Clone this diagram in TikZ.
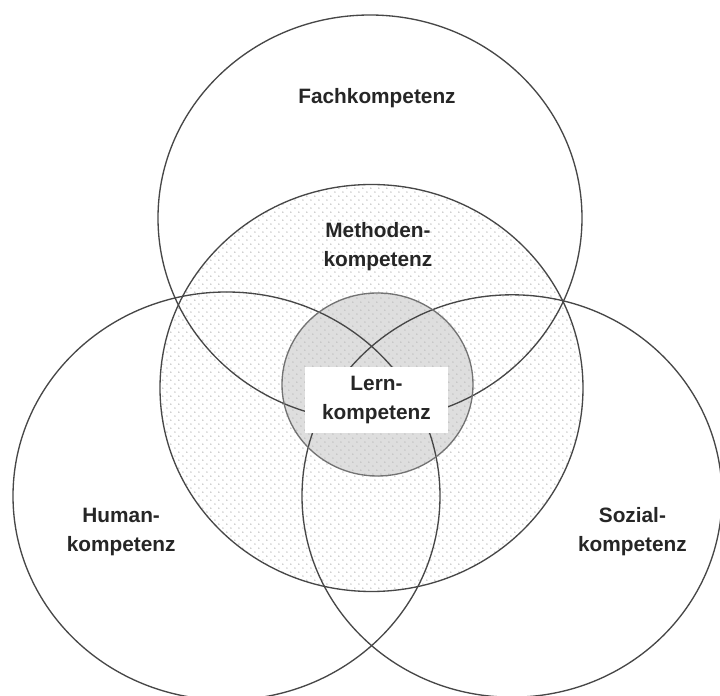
\documentclass[tikz,border=0pt]{standalone}
\usepackage{fontspec}
\setmainfont{Liberation Sans}
\usetikzlibrary{patterns}

\pgfdeclarepatternformonly{softdots}{\pgfpointorigin}{\pgfpoint{5.6pt}{5.6pt}}{\pgfpoint{5.6pt}{5.6pt}}{%
  \pgfpathcircle{\pgfpoint{1.4pt}{1.4pt}}{0.55pt}%
  \pgfpathcircle{\pgfpoint{4.2pt}{4.2pt}}{0.55pt}%
  \pgfusepath{fill}%
}

\tikzset{
  every node/.style={font=\fontsize{14.8}{20.5}\selectfont\bfseries, align=center, text=black!85},
  kreis/.style={draw=black!72, line width=0.95pt},
  punkte/.style={pattern=softdots, pattern color=black!25},
  kasten/.style={fill=white, minimum width=3.575cm, minimum height=1.65cm, inner sep=0pt}
}

\begin{document}
\begin{tikzpicture}
  \fill[white] (0,0) rectangle (18,17.4);
  \useasboundingbox (0,0) rectangle (18,17.4);

  % Methodenkompetenz und Lernkompetenz gefuellt
  \fill[punkte] (9.2875,7.70) ellipse (5.2875 and 5.0875);
  \fill[black!13] (9.4375,7.7875) ellipse (2.3875 and 2.2875);
  \fill[punkte] (9.4375,7.7875) ellipse (2.3875 and 2.2875);

  % Kreise
  \draw[kreis] (9.25,11.95) ellipse (5.30 and 5.075);
  \draw[kreis] (9.2875,7.70) ellipse (5.2875 and 5.0875);
  \draw[kreis] (5.6625,5.0) ellipse (5.3375 and 5.10);
  \draw[kreis] (12.8,5.0) ellipse (5.25 and 5.03);
  \draw[kreis, draw=black!55] (9.4375,7.7875) ellipse (2.3875 and 2.2875);

  \node (fach) at (9.425,14.94) {Fachkompetenz};
  \node (methoden) at (9.45,11.24) {Methoden-\\kompetenz};
  \node[kasten] (lern) at (9.4125,7.40) {Lern-\\kompetenz};
  \node (human) at (3.03,4.1) {Human-\\kompetenz};
  \node (sozial) at (15.81,4.1) {Sozial-\\kompetenz};
\end{tikzpicture}
\end{document}
